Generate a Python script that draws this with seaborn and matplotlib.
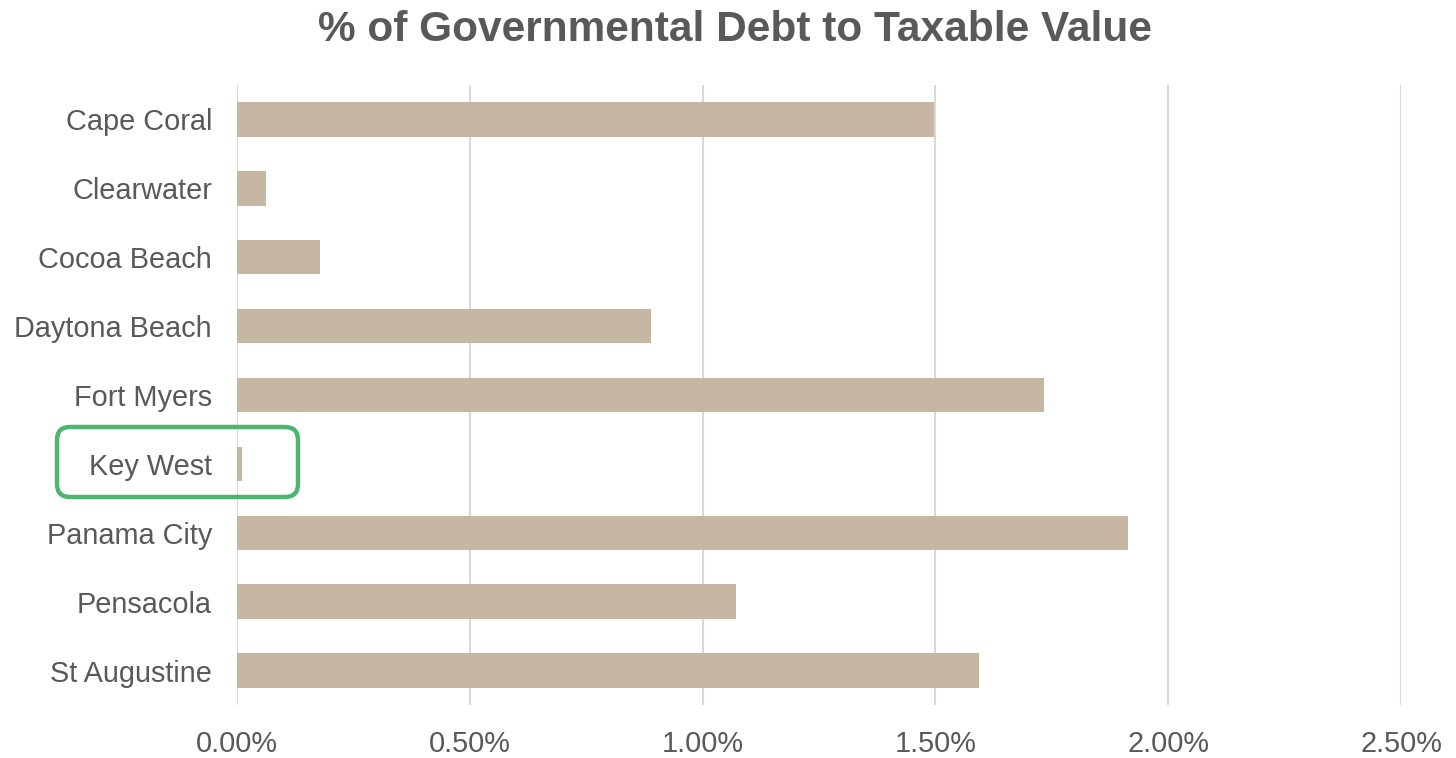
import matplotlib
matplotlib.use("Agg")
import matplotlib.pyplot as plt
import seaborn as sns
import pandas as pd
from matplotlib.patches import FancyBboxPatch
from matplotlib.ticker import PercentFormatter

cities = ["Cape Coral", "Clearwater", "Cocoa Beach", "Daytona Beach", "Fort Myers",
          "Key West", "Panama City", "Pensacola", "St Augustine"]
debt_pct = [1.496, 0.062, 0.178, 0.889, 1.733, 0.010, 1.914, 1.072, 1.593]
x_ticks = [0.0, 0.5, 1.0, 1.5, 2.0, 2.5]
title = "% of Governmental Debt to Taxable Value"

df = pd.DataFrame({"city": cities, "value": debt_pct})

sns.set_theme(style="white")
plt.rcParams["font.family"] = ["Liberation Sans", "DejaVu Sans"]

TXT = "#595959"
GRID = "#D9D9D9"
BAR = "#C6B7A3"

fig = plt.figure(figsize=(14.56, 7.58), dpi=100)
ax = fig.add_axes([237 / 1456, 1 - 705 / 758, (1401 - 237) / 1456, (705 - 85) / 758])

sns.barplot(data=df, x="value", y="city", orient="h", color=BAR, width=0.5,
            saturation=1, ax=ax, order=cities, linewidth=0)

ax.set_xlim(0, 2.5)
ax.set_xticks(x_ticks)
ax.xaxis.set_major_formatter(PercentFormatter(decimals=2))
ax.grid(axis="x", color=GRID, linewidth=1.5)
ax.grid(axis="y", visible=False)
ax.set_axisbelow(True)
for s in ax.spines.values():
    s.set_visible(False)
ax.set_xlabel("")
ax.set_ylabel("")
ax.tick_params(axis="both", length=0, labelsize=20.8, labelcolor=TXT)
ax.tick_params(axis="y", pad=18)
ax.tick_params(axis="x", pad=18)

fig.text(735 / 1456, 1 - 30 / 758, title, ha="center", va="center",
         fontsize=30.5, fontweight="bold", color=TXT)

box = FancyBboxPatch((57, 758 - 497), 241, 70, boxstyle="round,pad=0,rounding_size=13",
                     transform=None, fill=False, edgecolor="#4CB572", linewidth=3.2,
                     zorder=10)
fig.patches.append(box)

fig.savefig("out.png", dpi=100)
